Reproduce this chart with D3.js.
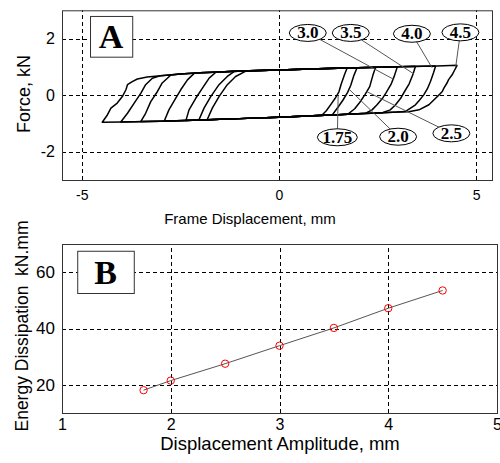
<!DOCTYPE html>
<html>
<head>
<meta charset="utf-8">
<script src="https://cdn.jsdelivr.net/npm/d3@7"></script>
<style>
	body { margin: 0; background: #fff; }
	text { font-family: "Liberation Sans", Arial, sans-serif; }
</style>
</head>
<body>
<script>
//panel A: hysteresis loops, one per displacement amplitude (mm, kN)
const amplitudes = [1.75, 2.0, 2.5, 3.0, 3.5, 4.0, 4.5];

//common upper plateau (left to right) and lower plateau (right to left)
const topPlateau = [[-3.34, 0.64], [-3, 0.69], [-2.5, 0.75], [-2, 0.79], [-1.5, 0.82], [-1, 0.85], [0, 0.89], [1, 0.93], [2, 0.97], [3, 1.0], [4, 1.03], [4.52, 1.06]];
const bottomPlateau = [[3.0, -0.60], [2.5, -0.63], [2.0, -0.66], [1.5, -0.69], [1.0, -0.72], [0, -0.78], [-1, -0.83], [-2, -0.88], [-3, -0.92], [-4, -0.95], [-4.52, -0.97]];

//unloading branches at the right end (top to bottom)
const rightBranches = [
	[[1.73, 0.97], [1.66, 0.72], [1.58, 0.40], [1.52, 0.12], [1.42, -0.12], [1.33, -0.30], [1.2, -0.55], [1.08, -0.72]],
	[[1.98, 0.97], [1.90, 0.70], [1.82, 0.35], [1.74, 0.10], [1.62, -0.18], [1.50, -0.42], [1.35, -0.70]],
	[[2.45, 0.99], [2.38, 0.70], [2.30, 0.30], [2.18, 0.02], [2.05, -0.25], [1.92, -0.48], [1.75, -0.67]],
	[[3.0, 1.0], [2.93, 0.70], [2.84, 0.38], [2.72, 0.10], [2.62, -0.12], [2.48, -0.35], [2.36, -0.52], [2.2, -0.64]],
	[[3.46, 1.02], [3.40, 0.75], [3.30, 0.40], [3.18, 0.12], [3.08, -0.12], [2.95, -0.35], [2.82, -0.52], [2.62, -0.62]],
	[[3.97, 1.03], [3.92, 0.80], [3.84, 0.48], [3.76, 0.22], [3.67, 0.01], [3.56, -0.18], [3.46, -0.34], [3.2, -0.58]],
	[[4.52, 1.06], [4.45, 0.88], [4.39, 0.72], [4.30, 0.55], [4.26, 0.43], [4.18, 0.25], [4.14, 0.13], [4.05, 0.0], [3.97, -0.11], [3.8, -0.34], [3.55, -0.52], [3.29, -0.59]]
];

//reloading branches at the left end (bottom to top)
const leftBranches = [
	[[-1.82, -0.87], [-1.69, -0.46], [-1.52, -0.05], [-1.31, 0.37], [-1.1, 0.66], [-0.84, 0.85]],
	[[-2.03, -0.88], [-1.9, -0.46], [-1.73, -0.05], [-1.52, 0.37], [-1.31, 0.66], [-1.14, 0.83]],
	[[-2.36, -0.90], [-2.28, -0.52], [-2.11, -0.11], [-1.94, 0.25], [-1.77, 0.60], [-1.6, 0.81]],
	[[-2.91, -0.92], [-2.79, -0.52], [-2.62, -0.11], [-2.49, 0.19], [-2.32, 0.54], [-2.15, 0.77]],
	[[-3.5, -0.93], [-3.38, -0.64], [-3.25, -0.23], [-3.08, 0.13], [-2.96, 0.43], [-2.74, 0.71]],
	[[-4.01, -0.95], [-3.84, -0.64], [-3.67, -0.28], [-3.5, 0.07], [-3.38, 0.37], [-3.21, 0.60], [-3.0, 0.69]],
	[[-4.48, -0.96], [-4.35, -0.70], [-4.26, -0.46], [-4.1, -0.28], [-3.97, -0.05], [-3.88, 0.19], [-3.84, 0.37], [-3.72, 0.48], [-3.59, 0.57], [-3.34, 0.64]]
];

//amplitude callouts: label, ellipse centre, leader end (data coords)
const calloutLabels = ["3.0", "3.5", "4.0", "4.5", "1.75", "2.0", "2.5"];
const calloutPos = [[0.73, 2.2], [1.82, 2.2], [3.37, 2.17], [4.6, 2.22], [1.48, -1.49], [3.02, -1.47], [4.37, -1.35]];
const calloutEnd = [[2.92, 0.55], [3.42, 0.75], [3.88, 0.97], [4.48, 1.0], [1.5, 0.0], [1.77, 0.22], [2.22, 0.13]];

const ticksAX = [-5, 0, 5];
const ticksAY = [-2, 0, 2];

//panel B: energy dissipation vs amplitude
const amplitudeB = [1.75, 2.0, 2.5, 3.0, 3.5, 4.0, 4.5];
const energyB = [18.1, 21.5, 27.5, 33.9, 40.2, 47.2, 53.5];
const ticksBX = [1, 2, 3, 4, 5];
const ticksBY = [20, 40, 60];

const svg = d3.select("body").append("svg")
	.attr("width", 500)
	.attr("height", 463);

//scales
const xA = d3.scaleLinear().domain([-5.5, 5.4]).range([62, 492]);
const yA = d3.scaleLinear().domain([-3, 3]).range([180, 10.3]);
const xB = d3.scaleLinear().domain([1, 5]).range([62, 497]);
const yB = d3.scaleLinear().domain([10, 70]).range([413, 244]);

//draws the dashed grid, the box and tick labels for one panel
const drawFrame = (x, y, tx, ty, opts) => {
	const g = svg.append("g");
	g.append("g").selectAll("line").data(tx).join("line")
		.attr("x1", d => Math.round(x(d)) + 0.5).attr("x2", d => Math.round(x(d)) + 0.5)
		.attr("y1", y.range()[0]).attr("y2", y.range()[1])
		.attr("stroke", "#000").attr("stroke-dasharray", "4,3");
	g.append("g").selectAll("line").data(ty).join("line")
		.attr("y1", d => Math.round(y(d)) + 0.5).attr("y2", d => Math.round(y(d)) + 0.5)
		.attr("x1", x.range()[0]).attr("x2", x.range()[1])
		.attr("stroke", "#000").attr("stroke-dasharray", "4,3");
	g.append("rect")
		.attr("x", x.range()[0] + 0.5).attr("y", y.range()[1] + 0.5)
		.attr("width", x.range()[1] - x.range()[0]).attr("height", y.range()[0] - y.range()[1])
		.attr("fill", "none").attr("stroke", "#333");

	const axX = d3.axisBottom(x).tickValues(tx).tickSize(0).tickPadding(opts.xPad).tickFormat(d => String(d));
	const gx = g.append("g").attr("transform", `translate(0,${y.range()[0]})`).call(axX);
	gx.select(".domain").remove();
	gx.selectAll("text").attr("fill", "#000").style("font-size", opts.xFont + "px").style("font-family", "Liberation Sans");

	const axY = d3.axisLeft(y).tickValues(ty).tickSize(0).tickPadding(7).tickFormat(d => String(d));
	const gy = g.append("g").attr("transform", `translate(${x.range()[0]},0)`).call(axY);
	gy.select(".domain").remove();
	gy.selectAll("text").attr("fill", "#000").style("font-size", opts.yFont + "px").style("font-family", "Liberation Sans");
	return g;
};

drawFrame(xA, yA, ticksAX, ticksAY, {xPad: 10, xFont: 14, yFont: 16});
drawFrame(xB, yB, ticksBX, ticksBY, {xPad: 6, xFont: 16, yFont: 17});

//build each loop: unloading branch, lower plateau, reloading branch, upper plateau
const loops = amplitudes.map((a, i) => {
	const r = rightBranches[i];
	const l = leftBranches[i];
	const lower = bottomPlateau.filter(p => p[0] < r[r.length - 1][0] && p[0] > l[0][0]);
	const upper = topPlateau.filter(p => p[0] > l[l.length - 1][0] && p[0] < r[0][0]);
	return [...r, ...lower, ...l, ...upper, r[0]];
});

const lineA = d3.line().x(d => xA(d[0])).y(d => yA(d[1]));
svg.append("g").selectAll("path").data(loops).join("path")
	.attr("d", lineA)
	.attr("fill", "none")
	.attr("stroke", "#000")
	.attr("stroke-width", 1.5)
	.attr("stroke-linejoin", "round");

//callouts with leader lines
const callouts = svg.append("g");
callouts.selectAll("line").data(calloutLabels).join("line")
	.attr("x1", (d, i) => xA(calloutPos[i][0])).attr("y1", (d, i) => yA(calloutPos[i][1]))
	.attr("x2", (d, i) => xA(calloutEnd[i][0])).attr("y2", (d, i) => yA(calloutEnd[i][1]))
	.attr("stroke", "#555").attr("stroke-width", 1);
callouts.selectAll("ellipse").data(calloutLabels).join("ellipse")
	.attr("cx", (d, i) => xA(calloutPos[i][0])).attr("cy", (d, i) => yA(calloutPos[i][1]))
	.attr("rx", d => d.length > 3 ? 20 : 18.5).attr("ry", 8.5)
	.attr("fill", "#fff").attr("stroke", "#000");
callouts.selectAll("text").data(calloutLabels).join("text")
	.attr("x", (d, i) => xA(calloutPos[i][0])).attr("y", (d, i) => yA(calloutPos[i][1]) + 5.5)
	.attr("text-anchor", "middle")
	.style("font-family", "Liberation Serif").style("font-weight", "bold").style("font-size", "17px")
	.text(d => d);

//panel letters
const letterBox = (x, y, x0, x1, y0, y1, label) => {
	svg.append("rect")
		.attr("x", x(x0) + 0.5).attr("y", y(y0) + 0.5)
		.attr("width", x(x1) - x(x0)).attr("height", y(y1) - y(y0))
		.attr("fill", "#fff").attr("stroke", "#333");
	svg.append("text")
		.attr("x", (x(x0) + x(x1)) / 2).attr("y", (y(y0) + y(y1)) / 2 + 12)
		.attr("text-anchor", "middle")
		.style("font-family", "Liberation Serif").style("font-weight", "bold").style("font-size", "34px")
		.text(label);
};
letterBox(xA, yA, -4.79, -3.72, 2.8, 1.36, "A");
letterBox(xB, yB, 1.14, 1.66, 67.6, 52.6, "B");

//panel B line and markers
const lineB = d3.line().x((d, i) => xB(amplitudeB[i])).y(d => yB(d));
svg.append("path").datum(energyB)
	.attr("d", lineB)
	.attr("fill", "none").attr("stroke", "#555").attr("stroke-width", 1);
svg.append("g").selectAll("circle").data(energyB).join("circle")
	.attr("cx", (d, i) => xB(amplitudeB[i])).attr("cy", d => yB(d))
	.attr("r", 3.7)
	.attr("fill", "none").attr("stroke", "#f00").attr("stroke-width", 1);

//axis titles
svg.append("text").attr("x", 250).attr("y", 224).attr("text-anchor", "middle")
	.style("font-size", "15px").text("Frame Displacement, mm");
svg.append("text").attr("transform", "translate(30,94) rotate(-90)").attr("text-anchor", "middle")
	.style("font-size", "18px").text("Force, kN");
svg.append("text").attr("x", 280).attr("y", 450).attr("text-anchor", "middle")
	.style("font-size", "18.5px").text("Displacement Amplitude, mm");
svg.append("text").attr("transform", "translate(28,326) rotate(-90)").attr("text-anchor", "middle")
	.style("font-size", "17.5px").style("white-space", "pre").text("Energy Dissipation  kN.mm");
</script>
</body>
</html>
